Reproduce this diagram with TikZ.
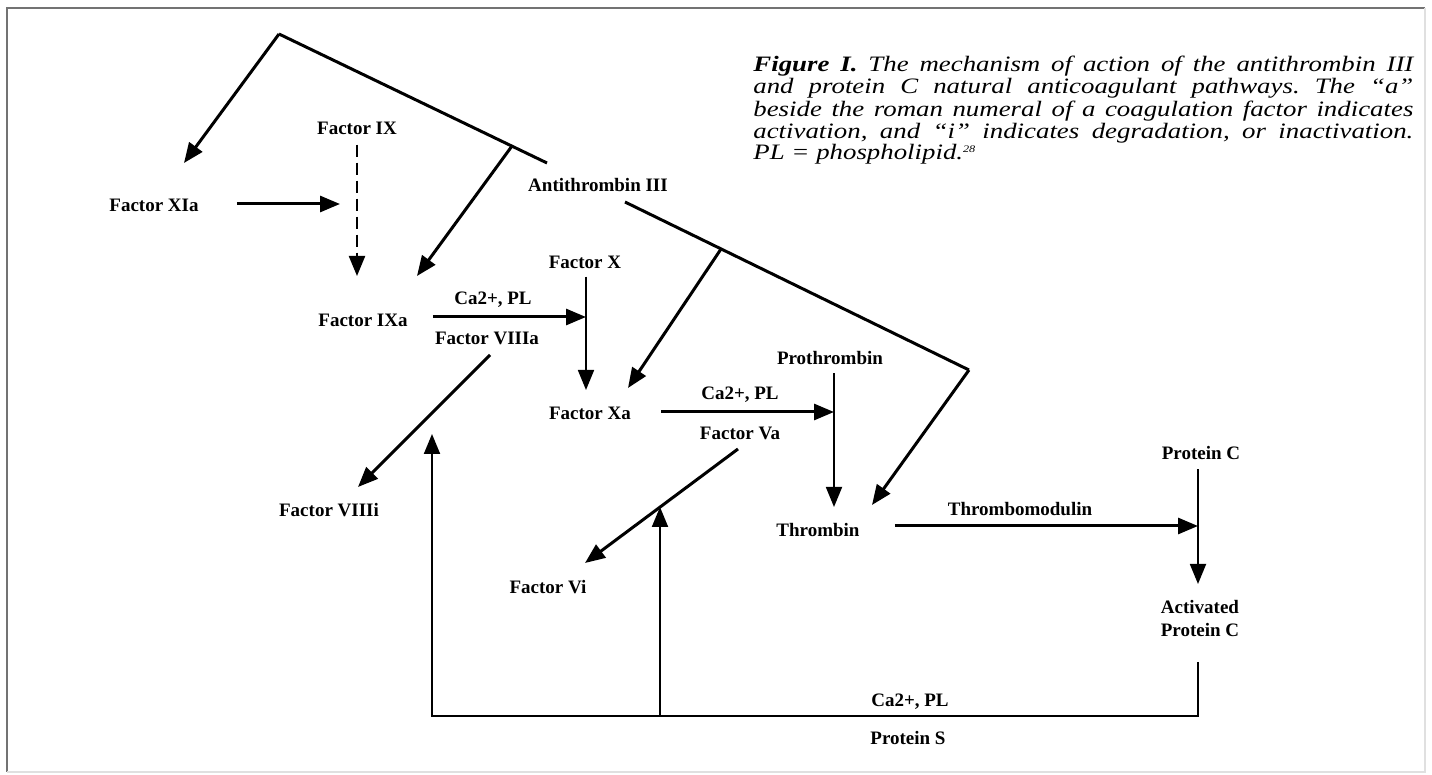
\documentclass[tikz,border=0pt]{standalone}
\usepackage{fontspec}
\setmainfont{Liberation Serif}
\newfontfamily\capfont{Liberation Serif}[FakeStretch=1.22]
\usetikzlibrary{arrows.meta,positioning}

\begin{document}
\begin{tikzpicture}[x=0.5pt,y=-0.5pt,
    lbl/.style={font=\fontsize{9.5}{10}\selectfont\bfseries,inner sep=0pt},
    heavy/.style={line width=1.5pt},
    light/.style={line width=0.9pt},
    >={Triangle[length=10pt,width=8pt]}]
  \useasboundingbox (0,0) rectangle (1432,775);
  % frame
  \draw[black!55,line width=1pt] (1425,8) -- (7,8) -- (7,772);
  \draw[black!12,line width=1pt] (7,772) -- (1425,772) -- (1425,8);

  % caption
  \node[anchor=north west,inner sep=0pt,text width=330pt,align=justify,
        font=\capfont\itshape\fontsize{11}{9.3}\selectfont] (cap) at (753,56)
    {\tolerance=9999\hyphenpenalty=10000\frenchspacing\lineskiplimit=-20pt
     \textbf{Figure I.} The mechanism of action of the antithrombin III\linebreak
     and protein C natural anticoagulant pathways. The “a”\linebreak
     beside the roman numeral of a coagulation factor indicates\linebreak
     activation, and “i” indicates degradation, or inactivation.\linebreak
     PL = phospholipid.\textsuperscript{\tiny 28}};

  % labels
  \node[lbl] (f_XIa)   at (154,205) {Factor XIa};
  \node[lbl] (f_IX)    at (357,128) {Factor IX};
  \node[lbl] (at_III)  at (598,185) {Antithrombin III};
  \node[lbl] (f_X)     at (585,262) {Factor X};
  \node[lbl] (f_IXa)   at (363,320) {Factor IXa};
  \node[lbl] (ca_1)    at (493,300) {Ca2+, PL};
  \node[lbl] (f_VIIIa) at (487,338) {Factor VIIIa};
  \node[lbl] (f_VIIIi) at (329,510) {Factor VIIIi};
  \node[lbl] (f_Xa)    at (590,413) {Factor Xa};
  \node[lbl] (ca_2)    at (740,395) {Ca2+, PL};
  \node[lbl] (f_Va)    at (740,433) {Factor Va};
  \node[lbl] (f_Vi)    at (548,587) {Factor Vi};
  \node[lbl] (prothr)  at (830,358) {Prothrombin};
  \node[lbl] (thr)     at (818,530) {Thrombin};
  \node[lbl] (tmod)    at (1020,509) {Thrombomodulin};
  \node[lbl] (p_C)     at (1201,453) {Protein C};
  \node[lbl,align=center,font=\fontsize{9.5}{11.5}\selectfont\bfseries]
                       (apc)     at (1200,619) {Activated\\Protein C};
  \node[lbl] (ca_3)    at (910,702) {Ca2+, PL};
  \node[lbl] (p_S)     at (908,738) {Protein S};

  % points on the lines
  \coordinate (apex)     at (279,34);
  \coordinate (at_end)   at (547,163);
  \coordinate (j_1)      at (512,146);
  \coordinate (tip_XIa)  at (184,163);
  \coordinate (tip_IXa1) at (417,276);
  \coordinate (tip_IXa2) at (357,276);
  \coordinate (in_IX)    at (340,204);
  \coordinate (at_start) at (625,202);
  \coordinate (bend)     at (969,370);
  \coordinate (j_2)      at (721,249);
  \coordinate (tip_Xa1)  at (586,390);
  \coordinate (tip_Xa2)  at (628,388);
  \coordinate (x_X)      at (586,317);
  \coordinate (x_pro)    at (834,412);
  \coordinate (tip_thr1) at (834,507);
  \coordinate (tip_thr2) at (872,505);
  \coordinate (viii_out) at (490,355);
  \coordinate (tip_VIIIi) at (358,487);
  \coordinate (va_out)   at (738,449);
  \coordinate (tip_Vi)   at (585,563);
  \coordinate (j_3)      at (660,507);
  \coordinate (x_pc)     at (1198,526);
  \coordinate (tip_apc)  at (1198,584);
  \coordinate (apc_out)  at (1198,662);
  \coordinate (fb_r)     at (1198,716);
  \coordinate (fb_m)     at (660,716);
  \coordinate (fb_l)     at (432,716);
  \coordinate (tip_fb)   at (432,434);

  % antithrombin III
  \draw[heavy,->] (apex) -- (tip_XIa);
  \draw[heavy] (apex) -- (at_end);
  \draw[heavy,->] (j_1) -- (tip_IXa1);
  \draw[heavy] (at_start) -- (bend);
  \draw[heavy,->] (bend) -- (tip_thr2);
  \draw[heavy,->] (j_2) -- (tip_Xa2);

  % cascade
  \draw[heavy,->] (f_XIa.east) ++(38,-1) -- (in_IX);
  \draw[line width=1.1pt,dashed,dash pattern=on 6pt off 3pt,->] (f_IX.south) ++(0,10) -- (tip_IXa2);
  \draw[light,->] (f_X.south) ++(1,8) -- (tip_Xa1);
  \draw[heavy,->] (f_IXa.east) ++(25,-3) -- (x_X);
  \draw[heavy,->] (viii_out) -- (tip_VIIIi);
  \draw[light,->] (prothr.south) ++(4,8) -- (tip_thr1);
  \draw[heavy,->] (f_Xa.east) ++(30,-1) -- (x_pro);
  \draw[heavy,->] (va_out) -- (tip_Vi);
  \draw[heavy,->] (thr.east) ++(35,-4) -- (x_pc);
  \draw[light,->] (p_C.south) ++(-3,9) -- (tip_apc);

  % protein C feedback
  \draw[line width=1pt,->] (apc_out) -- (fb_r) -- (fb_l) -- (tip_fb);
  \draw[line width=1pt,->] (fb_m) -- (j_3);
\end{tikzpicture}
\end{document}
